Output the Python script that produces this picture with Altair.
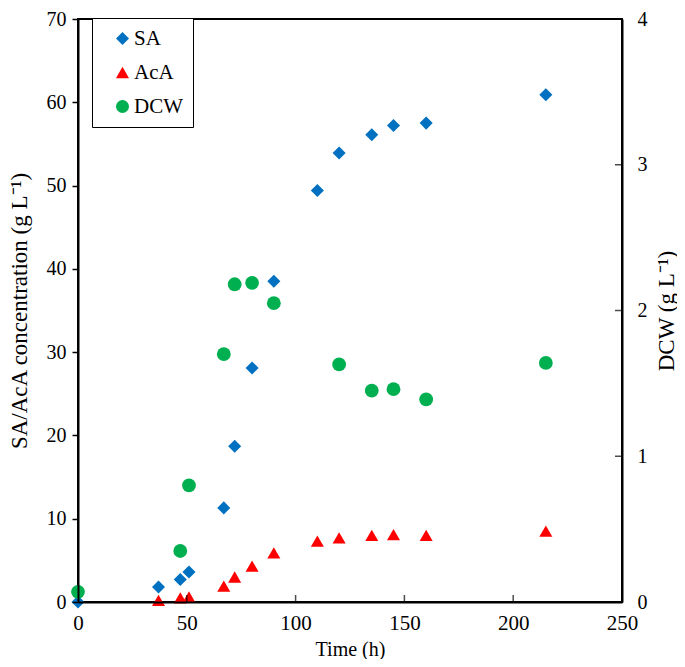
import altair as alt
import pandas as pd

# ---- data ----
time_sa = [0, 37, 47, 51, 67, 72, 80, 90, 110, 120, 135, 145, 160, 215]
sa = [0.0, 1.8, 2.7, 3.6, 11.3, 18.7, 28.1, 38.5, 49.4, 53.9, 56.1, 57.2, 57.5, 60.9]

time_aca = [37, 47, 51, 67, 72, 80, 90, 110, 120, 135, 145, 160, 215]
aca = [0.2, 0.5, 0.6, 1.9, 3.0, 4.3, 5.9, 7.3, 7.7, 8.0, 8.1, 8.0, 8.5]

time_dcw = [0, 47, 51, 67, 72, 80, 90, 120, 135, 145, 160, 215]
dcw = [0.07, 0.35, 0.80, 1.70, 2.18, 2.19, 2.05, 1.63, 1.45, 1.46, 1.39, 1.64]

series_names = ["SA", "AcA", "DCW"]
series_colors = ["#0070C0", "#FF0000", "#00B050"]
series_shapes = ["diamond", "triangle-up", "circle"]

x_ticks = [0, 50, 100, 150, 200, 250]
x_inner_ticks = [50, 100, 150, 200]
left_ticks = [0, 10, 20, 30, 40, 50, 60, 70]
right_ticks = [0, 1, 2, 3, 4]
right_inner_ticks = [1, 2, 3]

FONT = "Liberation Serif"
LINE_W = 2

df_left = pd.DataFrame({
    "Time": time_sa + time_aca,
    "Value": sa + aca,
    "Series": ["SA"] * len(sa) + ["AcA"] * len(aca),
})
df_dcw = pd.DataFrame({"Time": time_dcw, "DCW": dcw, "Series": ["DCW"] * len(dcw)})

x_scale = alt.Scale(domain=[0, 250], nice=False)
left_scale = alt.Scale(domain=[0, 70], nice=False)
right_scale = alt.Scale(domain=[0, 4], nice=False)
color_scale = alt.Scale(domain=series_names, range=series_colors)
shape_scale = alt.Scale(domain=series_names, range=series_shapes)

legend = alt.Legend(
    title=None, orient="none", legendX=14, legendY=-1,
    fillColor="white", strokeColor="black", padding=10,
    symbolOffset=10, symbolSize=170, symbolStrokeWidth=0,
    labelFont=FONT, labelFontSize=21, labelColor="black", labelOffset=1,
    rowPadding=12, labelExpr="datum.label + '\u2003\u2003'",
)

x_axis = alt.Axis(
    title="Time (h)", values=x_ticks, tickSize=0, labelPadding=10, labelFlush=False,
    labelFont=FONT, labelFontSize=21, labelColor="black",
    titleFont=FONT, titleFontSize=20, titleFontWeight="normal", titleColor="black",
    titlePadding=6, domain=True, domainColor="black", domainWidth=LINE_W,
    zindex=1, grid=False,
)

left_axis = alt.Axis(
    title="SA/AcA concentration (g L\u207b\u00b9)", values=left_ticks,
    tickSize=6, tickColor="black", tickWidth=1.5, labelPadding=6,
    labelFont=FONT, labelFontSize=20, labelColor="black",
    titleFont=FONT, titleFontSize=23, titleFontWeight="normal", titleColor="black",
    titlePadding=15, domain=True, domainColor="black", domainWidth=LINE_W,
    zindex=1, grid=False,
)

right_axis = alt.Axis(
    title="DCW (g L\u207b\u00b9)", orient="right", values=right_ticks,
    tickSize=0, labelPadding=15,
    labelFont=FONT, labelFontSize=20, labelColor="black",
    titleFont=FONT, titleFontSize=23, titleFontWeight="normal", titleColor="black",
    titleAngle=270, titleBaseline="top", titlePadding=8,
    domain=True, domainColor="black", domainWidth=LINE_W, zindex=1, grid=False,
)

left_points = alt.Chart(df_left).mark_point(filled=True, opacity=1, size=170).encode(
    x=alt.X("Time:Q", scale=x_scale, axis=x_axis),
    y=alt.Y("Value:Q", scale=left_scale, axis=left_axis),
    color=alt.Color("Series:N", scale=color_scale, legend=legend),
    shape=alt.Shape("Series:N", scale=shape_scale, legend=legend),
)

x_tick_marks = alt.Chart(pd.DataFrame({"Time": x_inner_ticks})).mark_tick(
    orient="vertical", size=7, thickness=1.5, color="black", yOffset=-3.5
).encode(
    x=alt.X("Time:Q", scale=x_scale, axis=x_axis),
    y=alt.datum(0),
)

dcw_points = alt.Chart(df_dcw).mark_point(filled=True, opacity=1, size=190).encode(
    x=alt.X("Time:Q", scale=x_scale, axis=x_axis),
    y=alt.Y("DCW:Q", scale=right_scale, axis=right_axis),
    color=alt.Color("Series:N", scale=color_scale, legend=legend),
    shape=alt.Shape("Series:N", scale=shape_scale, legend=legend),
)

r_tick_marks = alt.Chart(pd.DataFrame({"DCW": right_inner_ticks})).mark_tick(
    orient="horizontal", size=7, thickness=1.5, color="black", xOffset=-3.5
).encode(
    x=alt.datum(250),
    y=alt.Y("DCW:Q", scale=right_scale, axis=right_axis),
)

left_layer = alt.layer(left_points, x_tick_marks)
right_layer = alt.layer(dcw_points, r_tick_marks)

chart = alt.layer(left_layer, right_layer).resolve_scale(y="independent").properties(
    width=544, height=583,
    autosize=alt.AutoSizeParams(type="none"),
    padding={"left": 70, "top": 11, "right": 55, "bottom": 57},
    background="white",
).configure_view(stroke="black", strokeWidth=LINE_W, fill="transparent")

chart.save("out.html", embed_options={"renderer": "svg", "actions": False})
